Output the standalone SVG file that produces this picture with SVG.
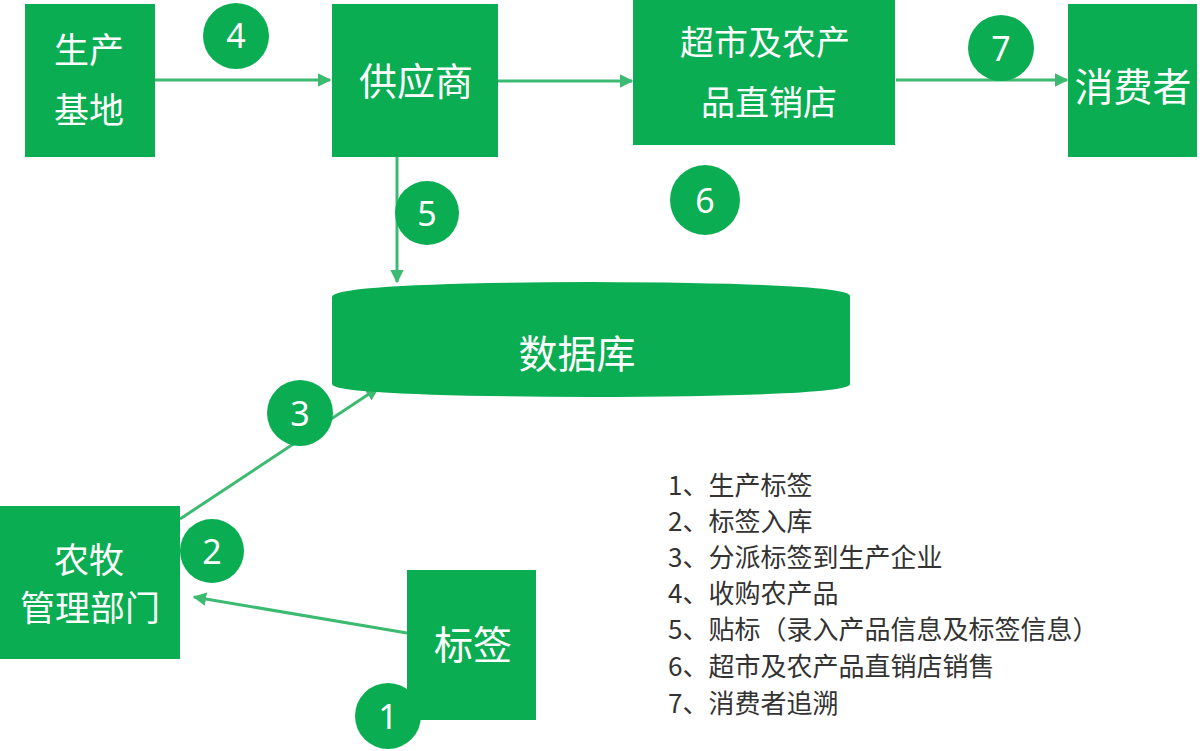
<svg xmlns="http://www.w3.org/2000/svg" width="1200" height="751" viewBox="0 0 1200 751">
<defs>
<marker id="ah" viewBox="0 0 10 10" refX="9" refY="5" markerWidth="4.5" markerHeight="4.5" orient="auto" markerUnits="strokeWidth">
<path d="M0,0 L10,5 L0,10 Z" fill="#3dba72"/>
</marker>
<style>
.box{fill:#0aad52}
.t{font-family:"Noto Sans CJK SC","Noto Sans",sans-serif;fill:#fff;text-anchor:middle}
.n{font-family:"Noto Sans","Liberation Sans",sans-serif;fill:#fff;text-anchor:middle;font-size:34px}
.c{stroke:#3dba72;stroke-width:3;fill:none}
.leg{font-family:"Noto Sans CJK SC","Noto Sans",sans-serif;fill:#333;font-size:26px}
</style>
</defs>
<rect width="1200" height="751" fill="#fff"/>
<g id="connectors">
<line class="c" x1="155" y1="80" x2="330" y2="80" marker-end="url(#ah)"/>
<line class="c" x1="498" y1="81" x2="632" y2="81" marker-end="url(#ah)"/>
<line class="c" x1="896" y1="80" x2="1067" y2="80" marker-end="url(#ah)"/>
<line class="c" x1="397" y1="157" x2="397" y2="282" marker-end="url(#ah)"/>
<line class="c" x1="180" y1="519" x2="378" y2="388" marker-end="url(#ah)"/>
<line class="c" x1="407" y1="633" x2="194" y2="597" marker-end="url(#ah)"/>
</g>
<g id="node-base">
<rect class="box" x="25" y="4" width="130" height="153"/>
<text class="t" x="89" y="63" font-size="35">生产</text>
<text class="t" x="89" y="123" font-size="35">基地</text>
</g>
<g id="node-supplier">
<rect class="box" x="332" y="4" width="166" height="153"/>
<text class="t" x="416" y="95" font-size="38">供应商</text>
</g>
<g id="node-market">
<rect class="box" x="633" y="0" width="262" height="145"/>
<text class="t" x="765" y="55" font-size="34">超市及农产</text>
<text class="t" x="769" y="115" font-size="34">品直销店</text>
</g>
<g id="node-consumer">
<rect class="box" x="1068" y="4" width="129" height="153"/>
<text class="t" x="1133" y="101" font-size="39">消费者</text>
</g>
<g id="node-db">
<path class="box" d="M332,297 Q332,283 590,282 Q850,283 850,296 L850,384 Q850,396 590,397 Q332,396 332,384 Z"/>
<text class="t" x="577" y="368" font-size="39">数据库</text>
</g>
<g id="node-dept">
<rect class="box" x="0" y="506" width="180" height="153"/>
<text class="t" x="89" y="573" font-size="35">农牧</text>
<text class="t" x="90" y="621" font-size="35">管理部门</text>
</g>
<g id="node-tag">
<rect class="box" x="407" y="570" width="129" height="150"/>
<text class="t" x="473" y="659" font-size="39">标签</text>
</g>
<g id="badge-4"><circle class="box" cx="236" cy="36" r="33"/><text class="n" x="236" y="48">4</text></g>
<g id="badge-7"><circle class="box" cx="1001" cy="48" r="33"/><text class="n" x="1001" y="61">7</text></g>
<g id="badge-5"><circle class="box" cx="427" cy="213" r="32"/><text class="n" x="427" y="226">5</text></g>
<g id="badge-6"><circle class="box" cx="705" cy="200" r="35"/><text class="n" x="705" y="213">6</text></g>
<g id="badge-3"><circle class="box" cx="300" cy="413" r="33"/><text class="n" x="300" y="426">3</text></g>
<g id="badge-2"><circle class="box" cx="212" cy="551" r="32"/><text class="n" x="212" y="564">2</text></g>
<g id="badge-1"><circle class="box" cx="388" cy="716" r="33"/><text class="n" x="388" y="729">1</text></g>
<g id="legend">
<text class="leg" x="668" y="495">1、生产标签</text>
<text class="leg" x="668" y="531">2、标签入库</text>
<text class="leg" x="668" y="567">3、分派标签到生产企业</text>
<text class="leg" x="668" y="603">4、收购农产品</text>
<text class="leg" x="668" y="639">5、贴标（录入产品信息及标签信息）</text>
<text class="leg" x="668" y="676">6、超市及农产品直销店销售</text>
<text class="leg" x="668" y="713">7、消费者追溯</text>
</g>
</svg>
